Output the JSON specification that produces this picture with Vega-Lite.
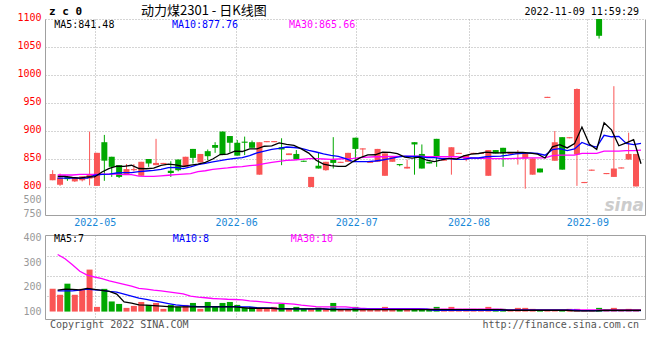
{
  "$schema": "https://vega.github.io/schema/vega-lite/v6.json",
  "padding": {"left": 16, "top": 4, "right": 5, "bottom": 5},
  "background": "#ffffff",
  "bounds": "flush",
  "spacing": 20,
  "config": {
    "view": {"stroke": null},
    "axis": {"labelFont": "DejaVu Sans Mono", "labelFontSize": 10, "domainColor": "#a0a0a0", "gridColor": "#aaaaaa", "gridDash": [1, 2], "ticks": false, "labelFlush": false, "labelOverlap": false}
  },
  "datasets": {
    "k": [
      {"i":0,"o":812,"c":823,"h":830,"l":812,"v":192,"m5":819,"m10":816,"m30":821.4,"vm5":187,"vm10":184,"vm30":331},
      {"i":1,"o":804,"c":817,"h":824,"l":802,"v":168,"m5":819,"m10":816,"m30":821.4,"vm5":191,"vm10":184,"vm30":314},
      {"i":2,"o":818,"c":814,"h":820,"l":811,"v":213,"m5":817,"m10":816,"m30":821.4,"vm5":190,"vm10":184,"vm30":290},
      {"i":3,"o":810,"c":817,"h":817,"l":809,"v":168,"m5":816,"m10":816,"m30":822.6,"vm5":188,"vm10":187,"vm30":263},
      {"i":4,"o":812,"c":819,"h":819,"l":810,"v":192,"m5":818,"m10":816,"m30":822.6,"vm5":194,"vm10":191,"vm30":248},
      {"i":5,"o":815,"c":823,"h":899,"l":803,"v":270,"m5":818,"m10":821,"m30":822.6,"vm5":190,"vm10":188,"vm30":240},
      {"i":6,"o":802,"c":861,"h":861,"l":802,"v":119,"m5":826.8,"m10":822.6,"m30":823,"vm5":186,"vm10":186,"vm30":233},
      {"i":7,"o":880,"c":847,"h":893,"l":811,"v":192,"m5":833.4,"m10":823,"m30":823,"vm5":182,"vm10":181.6,"vm30":224},
      {"i":8,"o":854,"c":836,"h":854,"l":818,"v":141,"m5":837.2,"m10":825,"m30":823,"vm5":171,"vm10":179,"vm30":217},
      {"i":9,"o":839,"c":818,"h":839,"l":816,"v":131,"m5":837,"m10":825.6,"m30":822,"vm5":139,"vm10":171,"vm30":210},
      {"i":10,"o":823,"c":832,"h":841,"l":822,"v":115,"m5":838.8,"m10":825.6,"m30":822,"vm5":134,"vm10":162.6,"vm30":203},
      {"i":11,"o":830,"c":832,"h":841,"l":828,"v":123,"m5":833,"m10":827.4,"m30":819.5,"vm5":127,"vm10":154.4,"vm30":194},
      {"i":12,"o":820,"c":845,"h":845,"l":820,"v":139,"m5":832.6,"m10":828.6,"m30":819,"vm5":126,"vm10":149,"vm30":191},
      {"i":13,"o":850,"c":842,"h":850,"l":836,"v":127,"m5":833.8,"m10":829.8,"m30":819,"vm5":124.5,"vm10":143.5,"vm30":187},
      {"i":14,"o":839,"c":843,"h":886,"l":839,"v":135,"m5":838.8,"m10":831.5,"m30":820,"vm5":122,"vm10":138,"vm30":184},
      {"i":15,"o":841,"c":843,"h":843,"l":841,"v":111,"m5":841,"m10":834.5,"m30":821,"vm5":120,"vm10":132.6,"vm30":180},
      {"i":16,"o":829,"c":825,"h":846,"l":818,"v":127,"m5":839.6,"m10":835,"m30":822,"vm5":119,"vm10":127,"vm30":176},
      {"i":17,"o":849,"c":830,"h":849,"l":828,"v":119,"m5":836.6,"m10":833,"m30":823,"vm5":119,"vm10":124.5,"vm30":172},
      {"i":18,"o":836,"c":854,"h":854,"l":836,"v":127,"m5":839,"m10":836,"m30":824,"vm5":119,"vm10":122,"vm30":162.6},
      {"i":19,"o":868,"c":852,"h":868,"l":842,"v":135,"m5":840.8,"m10":840,"m30":827.4,"vm5":119,"vm10":120.4,"vm30":158.5},
      {"i":20,"o":844,"c":859,"h":859,"l":844,"v":111,"m5":844,"m10":842,"m30":829,"vm5":119,"vm10":120.4,"vm30":156},
      {"i":21,"o":864,"c":855,"h":867,"l":848,"v":139,"m5":850,"m10":845,"m30":831.5,"vm5":119,"vm10":120.4,"vm30":153},
      {"i":22,"o":875,"c":870,"h":880,"l":861,"v":119,"m5":858,"m10":847,"m30":832.7,"vm5":119,"vm10":120.4,"vm30":151.7},
      {"i":23,"o":899,"c":857,"h":899,"l":857,"v":135,"m5":858.6,"m10":849.4,"m30":834,"vm5":119,"vm10":120.4,"vm30":150},
      {"i":24,"o":891,"c":879,"h":891,"l":862,"v":139,"m5":864,"m10":851,"m30":835.7,"vm5":119,"vm10":120.4,"vm30":149},
      {"i":25,"o":879,"c":856,"h":884,"l":856,"v":127,"m5":863.4,"m10":852.4,"m30":836.3,"vm5":116,"vm10":119,"vm30":147.6},
      {"i":26,"o":881,"c":879,"h":890,"l":857,"v":115,"m5":868.2,"m10":856,"m30":838,"vm5":113.6,"vm10":119,"vm30":143.5},
      {"i":27,"o":880,"c":870,"h":883,"l":870,"v":119,"m5":868.2,"m10":861,"m30":839.3,"vm5":113.6,"vm10":116,"vm30":141},
      {"i":28,"o":822,"c":880,"h":880,"l":822,"v":115,"m5":872.8,"m10":864,"m30":841.7,"vm5":113.6,"vm10":115,"vm30":138},
      {"i":29,"o":880,"c":882,"h":882,"l":880,"v":111,"m5":873.4,"m10":867,"m30":844,"vm5":113.6,"vm10":113.6,"vm30":135},
      {"i":30,"o":880,"c":882,"h":882,"l":880,"v":119,"m5":878.6,"m10":869,"m30":845.8,"vm5":111,"vm10":112,"vm30":134},
      {"i":31,"o":871,"c":867,"h":887,"l":839,"v":131,"m5":876.2,"m10":871.4,"m30":847.6,"vm5":111,"vm10":112,"vm30":132.6},
      {"i":32,"o":857,"c":860,"h":860,"l":857,"v":111,"m5":874.2,"m10":870.5,"m30":848.2,"vm5":111,"vm10":111,"vm30":130},
      {"i":33,"o":859,"c":849,"h":866,"l":848,"v":119,"m5":868,"m10":869,"m30":849.4,"vm5":111,"vm10":111,"vm30":126},
      {"i":34,"o":847,"c":845,"h":847,"l":845,"v":111,"m5":860.6,"m10":865.5,"m30":850.6,"vm5":111,"vm10":111,"vm30":123},
      {"i":35,"o":800,"c":818,"h":818,"l":800,"v":111,"m5":847.8,"m10":862.5,"m30":850.6,"vm5":111,"vm10":111,"vm30":120.4},
      {"i":36,"o":838,"c":833,"h":862,"l":833,"v":116,"m5":841,"m10":859,"m30":850,"vm5":111,"vm10":111,"vm30":119},
      {"i":37,"o":830,"c":845,"h":845,"l":829,"v":111,"m5":838,"m10":856.5,"m30":849.5,"vm5":108,"vm10":109.5,"vm30":119},
      {"i":38,"o":849,"c":843,"h":889,"l":833,"v":135,"m5":836.8,"m10":854.7,"m30":850,"vm5":108,"vm10":109.5,"vm30":119},
      {"i":39,"o":843,"c":845,"h":845,"l":843,"v":111,"m5":836.8,"m10":850.6,"m30":850.6,"vm5":108,"vm10":109.5,"vm30":119},
      {"i":40,"o":845,"c":861,"h":861,"l":845,"v":111,"m5":845.4,"m10":845.2,"m30":851.2,"vm5":108,"vm10":109.5,"vm30":116},
      {"i":41,"o":888,"c":868,"h":888,"l":849,"v":119,"m5":852.4,"m10":845.2,"m30":852.4,"vm5":108,"vm10":109.5,"vm30":113.6},
      {"i":42,"o":867,"c":869,"h":869,"l":853,"v":111,"m5":857.2,"m10":845.2,"m30":853.5,"vm5":108,"vm10":109.5,"vm30":112},
      {"i":43,"o":843,"c":845,"h":845,"l":843,"v":111,"m5":857.6,"m10":846.4,"m30":854,"vm5":108,"vm10":109.5,"vm30":112},
      {"i":44,"o":845,"c":868,"h":868,"l":845,"v":111,"m5":862.2,"m10":848.2,"m30":854,"vm5":108,"vm10":109.5,"vm30":112},
      {"i":45,"o":820,"c":860,"h":860,"l":820,"v":119,"m5":862,"m10":850.6,"m30":854.7,"vm5":108,"vm10":109.5,"vm30":112},
      {"i":46,"o":845,"c":855,"h":855,"l":845,"v":111,"m5":859.4,"m10":853.5,"m30":854.7,"vm5":108,"vm10":109.5,"vm30":112},
      {"i":47,"o":841,"c":839,"h":841,"l":837,"v":111,"m5":853.4,"m10":855.3,"m30":854.7,"vm5":108,"vm10":109.5,"vm30":112},
      {"i":48,"o":833,"c":836,"h":849,"l":833,"v":111,"m5":851.6,"m10":854.7,"m30":855.3,"vm5":108,"vm10":109.5,"vm30":112},
      {"i":49,"o":880,"c":876,"h":880,"l":822,"v":111,"m5":853.2,"m10":854.7,"m30":855.3,"vm5":108,"vm10":109.5,"vm30":112},
      {"i":50,"o":859,"c":833,"h":876,"l":833,"v":111,"m5":847.8,"m10":852.4,"m30":854,"vm5":108,"vm10":109.5,"vm30":109.5},
      {"i":51,"o":845,"c":842,"h":845,"l":842,"v":111,"m5":845.2,"m10":852.4,"m30":854,"vm5":108,"vm10":105.4,"vm30":109.5},
      {"i":52,"o":886,"c":855,"h":886,"l":836,"v":119,"m5":848.4,"m10":850.6,"m30":854,"vm5":108,"vm10":105.4,"vm30":109.5},
      {"i":53,"o":847,"c":849,"h":849,"l":847,"v":111,"m5":851,"m10":850.6,"m30":854,"vm5":108,"vm10":105.4,"vm30":109.5},
      {"i":54,"o":855,"c":871,"h":871,"l":822,"v":119,"m5":850,"m10":849.4,"m30":854,"vm5":108,"vm10":105.4,"vm30":109.5},
      {"i":55,"o":859,"c":861,"h":861,"l":859,"v":111,"m5":855.6,"m10":849.4,"m30":852.9,"vm5":108,"vm10":105.4,"vm30":109.5},
      {"i":56,"o":849,"c":857,"h":857,"l":846,"v":111,"m5":858.6,"m10":851.8,"m30":851.8,"vm5":108,"vm10":105.4,"vm30":109.5},
      {"i":57,"o":859,"c":861,"h":861,"l":859,"v":111,"m5":859.8,"m10":851.8,"m30":851.2,"vm5":108,"vm10":105.4,"vm30":109.5},
      {"i":58,"o":859,"c":861,"h":861,"l":859,"v":111,"m5":862.2,"m10":854,"m30":851.2,"vm5":108,"vm10":105.4,"vm30":109.5},
      {"i":59,"o":820,"c":866,"h":866,"l":820,"v":119,"m5":861.2,"m10":854.7,"m30":850.6,"vm5":108,"vm10":105.4,"vm30":109.5},
      {"i":60,"o":866,"c":860,"h":866,"l":860,"v":111,"m5":861,"m10":855.3,"m30":850.6,"vm5":108,"vm10":105.4,"vm30":109.5},
      {"i":61,"o":870,"c":860,"h":870,"l":836,"v":111,"m5":861.6,"m10":857,"m30":850.6,"vm5":105.4,"vm10":105.4,"vm30":106.8},
      {"i":62,"o":859,"c":861,"h":861,"l":859,"v":105,"m5":861.6,"m10":859,"m30":851.2,"vm5":105.4,"vm10":105.4,"vm30":106.8},
      {"i":63,"o":859,"c":861,"h":866,"l":840,"v":115,"m5":861.6,"m10":860,"m30":851.8,"vm5":105.4,"vm10":105.4,"vm30":106.8},
      {"i":64,"o":851,"c":860,"h":860,"l":797,"v":115,"m5":860.4,"m10":860.8,"m30":852,"vm5":105.4,"vm10":105.4,"vm30":106.8},
      {"i":65,"o":822,"c":851,"h":851,"l":822,"v":111,"m5":858.6,"m10":859.8,"m30":852,"vm5":105.4,"vm10":105.4,"vm30":106.8},
      {"i":66,"o":833,"c":826,"h":833,"l":826,"v":105,"m5":851.8,"m10":856.7,"m30":852,"vm5":105.4,"vm10":105.4,"vm30":106.8},
      {"i":67,"o":959,"c":961,"h":961,"l":959,"v":105,"m5":871.8,"m10":866.7,"m30":856,"vm5":105.4,"vm10":105.4,"vm30":106.8},
      {"i":68,"o":847,"c":880,"h":900,"l":847,"v":105,"m5":875.6,"m10":868.6,"m30":857,"vm5":105.4,"vm10":105.4,"vm30":106.8},
      {"i":69,"o":889,"c":831,"h":889,"l":831,"v":105,"m5":869.8,"m10":865.1,"m30":857,"vm5":105.4,"vm10":105.4,"vm30":106.8},
      {"i":70,"o":887,"c":889,"h":889,"l":887,"v":111,"m5":877.4,"m10":868,"m30":857,"vm5":102.7,"vm10":105.4,"vm30":106.8},
      {"i":71,"o":858,"c":975,"h":976,"l":802,"v":111,"m5":907,"m10":879.5,"m30":860,"vm5":102.7,"vm10":104,"vm30":106.8},
      {"i":72,"o":807,"c":809,"h":809,"l":807,"v":105,"m5":876.8,"m10":874.3,"m30":860,"vm5":102.7,"vm10":104,"vm30":106.8},
      {"i":73,"o":829,"c":831,"h":831,"l":829,"v":105,"m5":867,"m10":871.3,"m30":860,"vm5":102.7,"vm10":104,"vm30":106.8},
      {"i":74,"o":1100,"c":1070,"h":1100,"l":1065,"v":115,"m5":914.8,"m10":892.3,"m30":864,"vm5":105.4,"vm10":104,"vm30":106.8},
      {"i":75,"o":823,"c":825,"h":825,"l":823,"v":105,"m5":902,"m10":889.7,"m30":864,"vm5":105.4,"vm10":104,"vm30":106.8},
      {"i":76,"o":818,"c":833,"h":980,"l":818,"v":115,"m5":873.6,"m10":890.4,"m30":864,"vm5":105.4,"vm10":104,"vm30":106.8},
      {"i":77,"o":833,"c":835,"h":835,"l":833,"v":105,"m5":878.8,"m10":877.8,"m30":865,"vm5":105.4,"vm10":104,"vm30":106.8},
      {"i":78,"o":849,"c":859,"h":897,"l":849,"v":111,"m5":884.4,"m10":875.7,"m30":865,"vm5":105.4,"vm10":104,"vm30":106.8},
      {"i":79,"o":801,"c":859,"h":859,"l":801,"v":105,"m5":841.5,"m10":877.8,"m30":865.7,"vm5":105.4,"vm10":104,"vm30":106.8}
    ]
  },
  "vconcat": [
    {
      "width": 600,
      "height": 196,
      "data": {"name": "k"},
      "resolve": {"axis": {"x": "independent", "y": "independent"}},
      "layer": [
        {
          "mark": {"type": "rule", "strokeWidth": 1},
          "encoding": {
            "x": {"field": "i", "type": "quantitative", "scale": {"domain": [-0.36, 79.54], "nice": false, "zero": false},
              "axis": {"orient": "bottom", "title": null, "values": [5.7, 24.85, 41.12, 56.32, 72.41],
                "labelExpr": "datum.value < 10 ? '2022-05' : datum.value < 30 ? '2022-06' : datum.value < 50 ? '2022-07' : datum.value < 65 ? '2022-08' : '2022-09'",
                "grid": true, "labelColor": "#1888d8", "labelPadding": 2}},
            "y": {"field": "l", "type": "quantitative", "scale": {"domain": [750, 1100], "nice": false, "zero": false},
              "axis": {"orient": "left", "title": null, "values": [750, 775, 800, 850, 900, 950, 1000, 1050, 1100], "format": "d",
                "labelExpr": "datum.value == 775 ? '500' : datum.label", "labelPadding": 4, "labelOffset": -2, "grid": true,
                "gridOpacity": {"condition": {"test": "datum.value < 800", "value": 0}, "value": 1},
                "labelColor": {"condition": {"test": "datum.value < 800", "value": "#999999"}, "value": "#ff0000"}}},
            "y2": {"field": "h"},
            "color": {"condition": {"test": "datum.c >= datum.o", "value": "#fa5555"}, "value": "#00a800"}
          }
        },
        {
          "mark": {"type": "bar", "width": 6},
          "encoding": {
            "x": {"field": "i", "type": "quantitative", "scale": {"domain": [-0.36, 79.54], "nice": false, "zero": false}, "axis": null},
            "y": {"field": "o", "type": "quantitative", "scale": {"domain": [750, 1100], "nice": false, "zero": false},
              "axis": {"orient": "right", "title": null, "labels": false, "grid": false}},
            "y2": {"field": "c"},
            "color": {"condition": {"test": "datum.c >= datum.o", "value": "#fa5555"}, "value": "#00a800"}
          }
        },
        {
          "mark": {"type": "line", "color": "#ff00ff", "strokeWidth": 1.3, "xOffset": 5},
          "encoding": {
            "x": {"field": "i", "type": "quantitative", "scale": {"domain": [-0.36, 79.54], "nice": false, "zero": false}, "axis": null},
            "y": {"field": "m30", "type": "quantitative", "scale": {"domain": [750, 1100], "nice": false, "zero": false}, "axis": null}
          }
        },
        {
          "mark": {"type": "line", "color": "#0000ff", "strokeWidth": 1.3, "xOffset": 5},
          "encoding": {
            "x": {"field": "i", "type": "quantitative", "scale": {"domain": [-0.36, 79.54], "nice": false, "zero": false}, "axis": null},
            "y": {"field": "m10", "type": "quantitative", "scale": {"domain": [750, 1100], "nice": false, "zero": false}, "axis": null}
          }
        },
        {
          "mark": {"type": "line", "color": "#000000", "strokeWidth": 1.3, "xOffset": 5},
          "encoding": {
            "x": {"field": "i", "type": "quantitative", "scale": {"domain": [-0.36, 79.54], "nice": false, "zero": false}, "axis": null},
            "y": {"field": "m5", "type": "quantitative", "scale": {"domain": [750, 1100], "nice": false, "zero": false}, "axis": null}
          }
        },
        {
          "data": {"values": [{}]},
          "mark": {"type": "text", "text": "z c 0", "align": "left", "baseline": "middle", "font": "DejaVu Sans Mono", "fontWeight": "bold", "fontSize": 11, "color": "#000000"},
          "encoding": {
            "x": {"datum": -0.49, "type": "quantitative", "scale": {"domain": [-0.36, 79.54], "nice": false, "zero": false}, "axis": null},
            "y": {"datum": 1112.1, "type": "quantitative", "scale": {"domain": [750, 1100], "nice": false, "zero": false}, "axis": null}
          }
        },
        {
          "data": {"values": [{}]},
          "mark": {"type": "text", "text": "动力煤2301 - 日K线图", "align": "center", "baseline": "middle", "font": "Noto Sans CJK SC", "fontSize": 13, "color": "#000000"},
          "encoding": {
            "x": {"datum": 20.48, "type": "quantitative", "scale": {"domain": [-0.36, 79.54], "nice": false, "zero": false}, "axis": null},
            "y": {"datum": 1114.3, "type": "quantitative", "scale": {"domain": [750, 1100], "nice": false, "zero": false}, "axis": null}
          }
        },
        {
          "data": {"values": [{}]},
          "mark": {"type": "text", "text": "2022-11-09 11:59:29", "align": "right", "baseline": "middle", "font": "DejaVu Sans Mono", "fontSize": 10, "color": "#000000"},
          "encoding": {
            "x": {"datum": 79.4, "type": "quantitative", "scale": {"domain": [-0.36, 79.54], "nice": false, "zero": false}, "axis": null},
            "y": {"datum": 1112.5, "type": "quantitative", "scale": {"domain": [750, 1100], "nice": false, "zero": false}, "axis": null}
          }
        },
        {
          "data": {"values": [{}]},
          "mark": {"type": "text", "text": "MA5:841.48", "align": "left", "baseline": "middle", "font": "DejaVu Sans Mono", "fontSize": 10, "color": "#000000"},
          "encoding": {
            "x": {"datum": 0.21, "type": "quantitative", "scale": {"domain": [-0.36, 79.54], "nice": false, "zero": false}, "axis": null},
            "y": {"datum": 1089.8, "type": "quantitative", "scale": {"domain": [750, 1100], "nice": false, "zero": false}, "axis": null}
          }
        },
        {
          "data": {"values": [{}]},
          "mark": {"type": "text", "text": "MA10:877.76", "align": "left", "baseline": "middle", "font": "DejaVu Sans Mono", "fontSize": 10, "color": "#0000ff"},
          "encoding": {
            "x": {"datum": 16.15, "type": "quantitative", "scale": {"domain": [-0.36, 79.54], "nice": false, "zero": false}, "axis": null},
            "y": {"datum": 1089.8, "type": "quantitative", "scale": {"domain": [750, 1100], "nice": false, "zero": false}, "axis": null}
          }
        },
        {
          "data": {"values": [{}]},
          "mark": {"type": "text", "text": "MA30:865.66", "align": "left", "baseline": "middle", "font": "DejaVu Sans Mono", "fontSize": 10, "color": "#ff00ff"},
          "encoding": {
            "x": {"datum": 32.0, "type": "quantitative", "scale": {"domain": [-0.36, 79.54], "nice": false, "zero": false}, "axis": null},
            "y": {"datum": 1089.8, "type": "quantitative", "scale": {"domain": [750, 1100], "nice": false, "zero": false}, "axis": null}
          }
        },
        {
          "data": {"values": [{}]},
          "mark": {"type": "text", "text": "sina", "align": "center", "baseline": "middle", "font": "DejaVu Sans", "fontWeight": "bold", "fontStyle": "italic", "fontSize": 17, "color": "#cccccc"},
          "encoding": {
            "x": {"datum": 77.4, "type": "quantitative", "scale": {"domain": [-0.36, 79.54], "nice": false, "zero": false}, "axis": null},
            "y": {"datum": 766, "type": "quantitative", "scale": {"domain": [750, 1100], "nice": false, "zero": false}, "axis": null}
          }
        }
      ]
    },
    {
      "width": 600,
      "height": 84,
      "data": {"name": "k"},
      "resolve": {"axis": {"x": "independent", "y": "independent"}},
      "layer": [
        {
          "mark": {"type": "bar", "width": 6},
          "encoding": {
            "x": {"field": "i", "type": "quantitative", "scale": {"domain": [-0.36, 79.54], "nice": false, "zero": false},
              "axis": {"orient": "bottom", "title": null, "values": [5.7, 24.85, 41.12, 56.32, 72.41], "labels": false, "grid": true}},
            "y": {"field": "v", "type": "quantitative", "scale": {"domain": [70, 410], "nice": false, "zero": false},
              "axis": {"orient": "left", "title": null, "values": [100, 200, 300, 400], "labelColor": "#999999", "labelPadding": 4, "grid": false}},
            "y2": {"datum": 100},
            "color": {"condition": {"test": "datum.c >= datum.o", "value": "#fa5555"}, "value": "#00a800"}
          }
        },
        {
          "mark": {"type": "line", "color": "#ff00ff", "strokeWidth": 1.3, "xOffset": 5},
          "encoding": {
            "x": {"field": "i", "type": "quantitative", "scale": {"domain": [-0.36, 79.54], "nice": false, "zero": false},
              "axis": {"orient": "top", "title": null, "labels": false, "grid": false}},
            "y": {"field": "vm30", "type": "quantitative", "scale": {"domain": [70, 410], "nice": false, "zero": false},
              "axis": {"orient": "right", "title": null, "values": [163, 244, 325], "labels": false, "grid": true}}
          }
        },
        {
          "mark": {"type": "line", "color": "#0000ff", "strokeWidth": 1.3, "xOffset": 5},
          "encoding": {
            "x": {"field": "i", "type": "quantitative", "scale": {"domain": [-0.36, 79.54], "nice": false, "zero": false}, "axis": null},
            "y": {"field": "vm10", "type": "quantitative", "scale": {"domain": [70, 410], "nice": false, "zero": false}, "axis": null}
          }
        },
        {
          "mark": {"type": "line", "color": "#000000", "strokeWidth": 1.3, "xOffset": 5},
          "encoding": {
            "x": {"field": "i", "type": "quantitative", "scale": {"domain": [-0.36, 79.54], "nice": false, "zero": false}, "axis": null},
            "y": {"field": "vm5", "type": "quantitative", "scale": {"domain": [70, 410], "nice": false, "zero": false}, "axis": null}
          }
        },
        {
          "data": {"values": [{}]},
          "mark": {"type": "text", "text": "MA5:7", "align": "left", "baseline": "middle", "font": "DejaVu Sans Mono", "fontSize": 10, "color": "#000000"},
          "encoding": {
            "x": {"datum": 0.17, "type": "quantitative", "scale": {"domain": [-0.36, 79.54], "nice": false, "zero": false}, "axis": null},
            "y": {"datum": 392.6, "type": "quantitative", "scale": {"domain": [70, 410], "nice": false, "zero": false}, "axis": null}
          }
        },
        {
          "data": {"values": [{}]},
          "mark": {"type": "text", "text": "MA10:8", "align": "left", "baseline": "middle", "font": "DejaVu Sans Mono", "fontSize": 10, "color": "#0000ff"},
          "encoding": {
            "x": {"datum": 16.28, "type": "quantitative", "scale": {"domain": [-0.36, 79.54], "nice": false, "zero": false}, "axis": null},
            "y": {"datum": 392.6, "type": "quantitative", "scale": {"domain": [70, 410], "nice": false, "zero": false}, "axis": null}
          }
        },
        {
          "data": {"values": [{}]},
          "mark": {"type": "text", "text": "MA30:10", "align": "left", "baseline": "middle", "font": "DejaVu Sans Mono", "fontSize": 10, "color": "#ff00ff"},
          "encoding": {
            "x": {"datum": 32.26, "type": "quantitative", "scale": {"domain": [-0.36, 79.54], "nice": false, "zero": false}, "axis": null},
            "y": {"datum": 392.6, "type": "quantitative", "scale": {"domain": [70, 410], "nice": false, "zero": false}, "axis": null}
          }
        },
        {
          "data": {"values": [{}]},
          "mark": {"type": "text", "text": "Copyright 2022 SINA.COM", "align": "left", "baseline": "middle", "font": "DejaVu Sans Mono", "fontSize": 10, "color": "#555555"},
          "encoding": {
            "x": {"datum": -0.36, "type": "quantitative", "scale": {"domain": [-0.36, 79.54], "nice": false, "zero": false}, "axis": null},
            "y": {"datum": 45.8, "type": "quantitative", "scale": {"domain": [70, 410], "nice": false, "zero": false}, "axis": null}
          }
        },
        {
          "data": {"values": [{}]},
          "mark": {"type": "text", "text": "http://finance.sina.com.cn", "align": "right", "baseline": "middle", "font": "DejaVu Sans Mono", "fontSize": 10, "color": "#555555"},
          "encoding": {
            "x": {"datum": 79.4, "type": "quantitative", "scale": {"domain": [-0.36, 79.54], "nice": false, "zero": false}, "axis": null},
            "y": {"datum": 45.8, "type": "quantitative", "scale": {"domain": [70, 410], "nice": false, "zero": false}, "axis": null}
          }
        }
      ]
    }
  ]
}
